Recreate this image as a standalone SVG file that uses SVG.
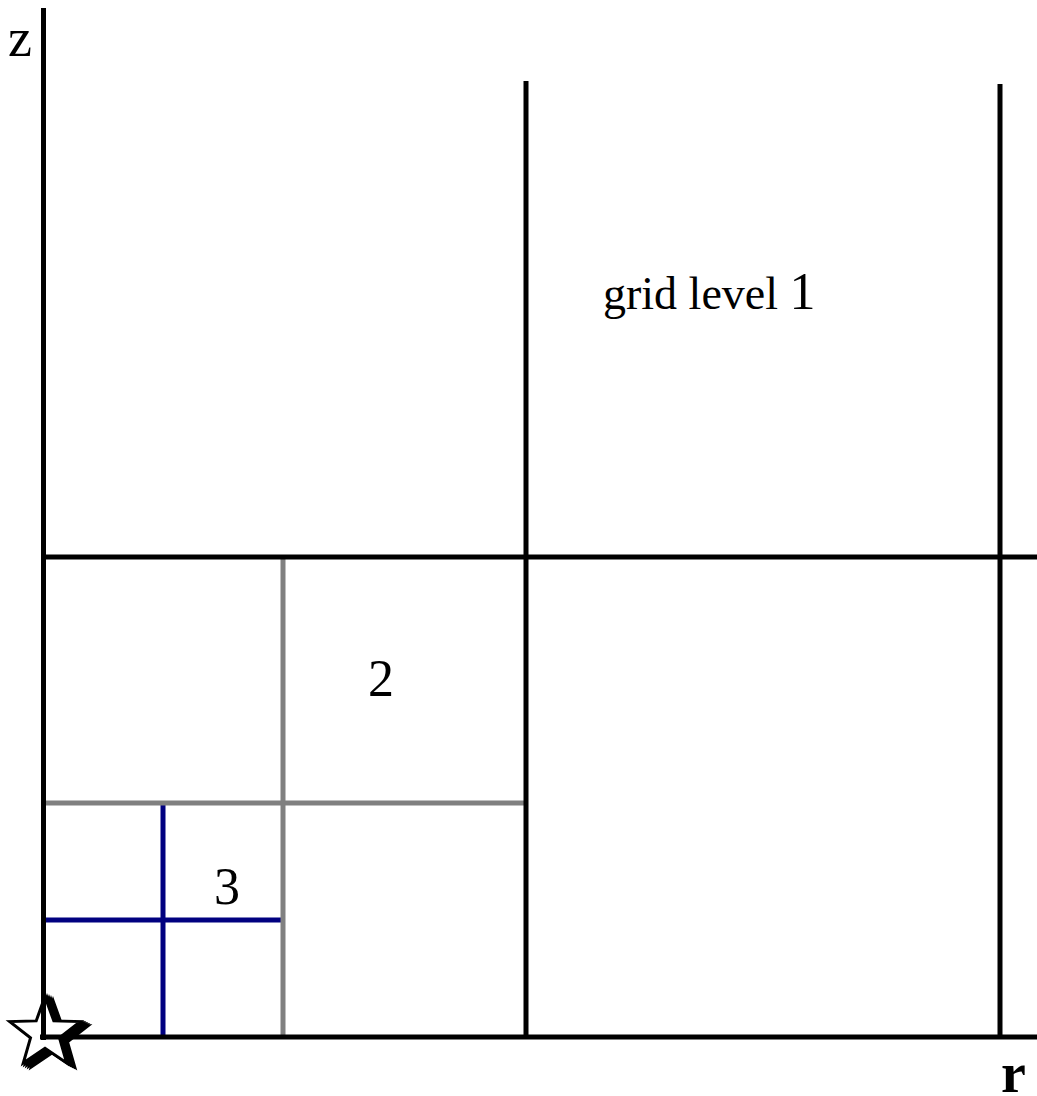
<svg xmlns="http://www.w3.org/2000/svg" xmlns:xlink="http://www.w3.org/1999/xlink" width="1037" height="1096" viewBox="0 0 1037 1096">
  <style>
    .l1 { stroke: #000000; stroke-width: 5; fill: none; }
    .l2 { stroke: #808080; stroke-width: 5; fill: none; }
    .l3 { stroke: #000080; stroke-width: 5; fill: none; }
    text { fill: #000000; }
  </style>
  <defs>
    <polygon id="star" points="45,996.5 53.8,1020.9 80.2,1021.6 59.5,1037.8 66.7,1063 45,1048.3 23.3,1063 30.5,1037.8 9.8,1021.6 36.2,1020.9"/>
  </defs>
  <rect x="0" y="0" width="1037" height="1096" fill="#ffffff"/>
  <g id="origin-star">
    <use xlink:href="#star" transform="translate(2,1)" fill="#000000" stroke="#000000" stroke-width="3"/>
    <use xlink:href="#star" transform="translate(4,2)" fill="#000000" stroke="#000000" stroke-width="3"/>
    <use xlink:href="#star" transform="translate(6,3)" fill="#000000" stroke="#000000" stroke-width="3"/>
    <use xlink:href="#star" transform="translate(8,4)" fill="#000000" stroke="#000000" stroke-width="3"/>
    <use xlink:href="#star" fill="#ffffff" stroke="#000000" stroke-width="3"/>
  </g>
  <g id="connectors">
    <g id="level3-grid">
      <line class="l3" x1="163" y1="803" x2="163" y2="1037"/>
      <line class="l3" x1="43" y1="920" x2="283" y2="920"/>
    </g>
    <g id="level2-grid">
      <line class="l2" x1="283" y1="557" x2="283" y2="1037"/>
      <line class="l2" x1="43" y1="803" x2="526" y2="803"/>
    </g>
    <g id="level1-grid">
      <line class="l1" x1="43.5" y1="8" x2="43.5" y2="1040"/>
      <line class="l1" x1="526" y1="81" x2="526" y2="1037"/>
      <line class="l1" x1="1000" y1="84" x2="1000" y2="1037"/>
      <line class="l1" x1="43" y1="557" x2="1037" y2="557"/>
      <line class="l1" x1="40" y1="1037" x2="1037" y2="1037"/>
    </g>
  </g>
  <g id="labels" font-family="'Liberation Serif', 'Times New Roman', serif">
    <text id="axis-z" x="8" y="56" font-size="54">z</text>
    <text id="axis-r" x="1001" y="1092" font-size="56" font-weight="bold">r</text>
    <text id="label-level1" x="603" y="309" font-size="46">grid level <tspan font-size="52">1</tspan></text>
    <text id="label-level2" x="368" y="696" font-size="52">2</text>
    <text id="label-level3" x="214" y="904" font-size="52">3</text>
  </g>
</svg>
